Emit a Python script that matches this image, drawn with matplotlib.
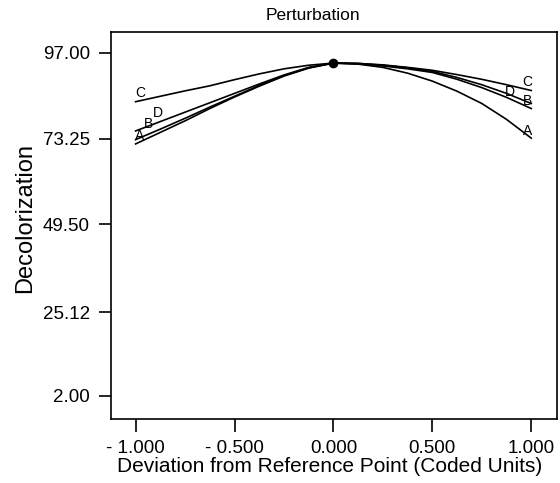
import numpy as np
import matplotlib.pyplot as plt

plt.rcParams['font.family'] = ['Liberation Sans', 'DejaVu Sans']

# Coded deviation from reference point
dev = [-1.0, -0.875, -0.75, -0.625, -0.5, -0.375, -0.25, -0.125, 0.0,
       0.125, 0.25, 0.375, 0.5, 0.625, 0.75, 0.875, 1.0]

# Decolorization for each factor
curve_A = [71.8, 75.0, 78.2, 81.6, 84.8, 87.8, 90.6, 92.8, 94.2,
           93.9, 93.0, 91.4, 89.2, 86.4, 83.0, 78.6, 73.4]
curve_B = [73.0, 75.9, 78.9, 82.0, 85.0, 88.0, 90.7, 92.9, 94.2,
           94.0, 93.4, 92.6, 91.6, 89.7, 87.4, 84.7, 81.6]
curve_C = [83.5, 85.0, 86.5, 87.9, 89.6, 91.2, 92.6, 93.6, 94.2,
           94.1, 93.7, 93.0, 92.2, 91.0, 89.7, 88.2, 86.6]
curve_D = [75.4, 78.0, 80.6, 83.2, 85.8, 88.4, 90.9, 93.0, 94.2,
           94.1, 93.6, 92.9, 91.9, 90.2, 88.2, 85.8, 83.0]

curves = {'A': curve_A, 'B': curve_B, 'C': curve_C, 'D': curve_D}

yticks = [2.00, 25.12, 49.50, 73.25, 97.00]
xticks = [-1.0, -0.5, 0.0, 0.5, 1.0]
xticklabels = ['- 1.000', '- 0.500', '0.000', '0.500', '1.000']

# label offsets in pixels (left end, right end)
left_off = {'A': (4, 8), 'B': (13, 16), 'C': (5, 9), 'D': (22, 18)}
right_off = {'A': (-4, 7), 'B': (-4, 8), 'C': (-4, 9), 'D': (-21, 11)}

fig = plt.figure(figsize=(5.6, 4.83), dpi=100)
ax = fig.add_axes([0.198, 0.1325, 0.7966, 0.8012])

for name, vals in curves.items():
    ax.plot(dev, vals, color='black', lw=1.2)
    ax.annotate(name, xy=(dev[0], vals[0]), xytext=left_off[name],
                textcoords='offset pixels', ha='center', va='center', fontsize=10)
    ax.annotate(name, xy=(dev[-1], vals[-1]), xytext=right_off[name],
                textcoords='offset pixels', ha='center', va='center', fontsize=10)

# reference point
ax.plot([0.0], [curve_A[8]], 'o', color='black', markersize=6)

ax.set_xlim(-1.125, 1.13)
ax.set_ylim(-4.4, 102.8)
ax.set_xticks(xticks)
ax.set_xticklabels(xticklabels)
ax.set_yticks(yticks)
ax.set_yticklabels(['%.2f' % v for v in yticks])
ax.tick_params(direction='out', length=9, width=1.2, labelsize=13.5, pad=6)
for s in ax.spines.values():
    s.set_linewidth(1.2)

fig.text(313 / 560, 1 - 15 / 483, 'Perturbation', ha='center', va='center', fontsize=12.5)
fig.text(330 / 560, 1 - 467 / 483, 'Deviation from Reference Point (Coded Units)',
         ha='center', va='center', fontsize=15)
fig.text(25 / 560, 1 - 218 / 483, 'Decolorization', ha='center', va='center',
         rotation=90, fontsize=17)

fig.savefig('out.png', dpi=100)
